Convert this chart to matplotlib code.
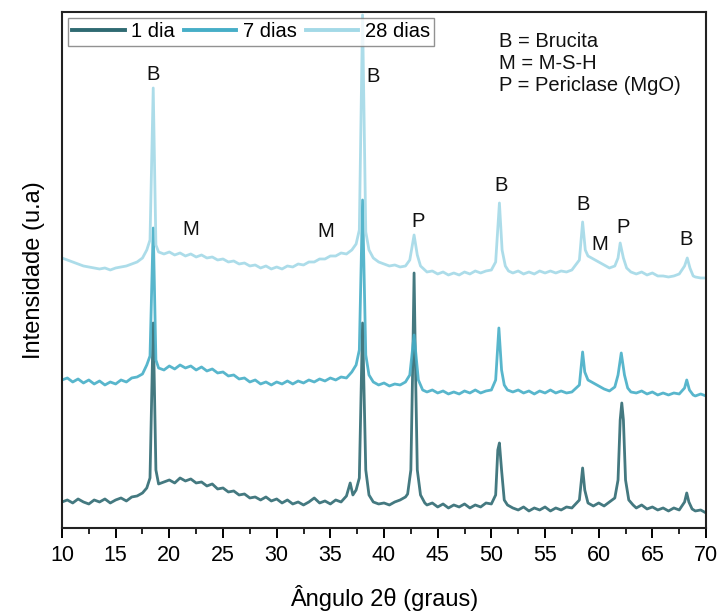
import matplotlib.pyplot as plt
from matplotlib.ticker import MultipleLocator

plt.rcParams['font.family'] = ['Liberation Sans', 'DejaVu Sans']

x_1d = [10, 10.5, 11, 11.5, 12, 12.5, 13, 13.5, 14, 14.5, 15, 15.5, 16, 16.5, 17, 17.5, 17.9, 18.2,
        18.5, 18.75, 19.0, 19.5, 20, 20.5, 21, 21.5, 22, 22.5, 23, 23.5, 24, 24.5, 25, 25.5, 26, 26.5,
        27, 27.5, 28, 28.5, 29, 29.5, 30, 30.5, 31, 31.5, 32, 32.5, 33, 33.5, 34, 34.5, 35, 35.5, 36,
        36.5, 36.85, 37.1, 37.4, 37.7, 38.0, 38.3, 38.6, 39, 39.5, 40, 40.5, 41, 41.5, 42, 42.2, 42.5,
        42.65, 42.8, 42.95, 43.1, 43.4, 43.8, 44, 44.5, 45, 45.5, 46, 46.5, 47, 47.5, 48, 48.5, 49,
        49.5, 50, 50.4, 50.6, 50.75, 50.95, 51.2, 51.5, 52, 52.5, 53, 53.5, 54, 54.5, 55, 55.5, 56,
        56.5, 57, 57.5, 58.2, 58.5, 58.7, 59, 59.5, 60, 60.5, 61, 61.5, 61.8, 62.0, 62.15, 62.3, 62.5,
        62.8, 63.2, 63.5, 64, 64.5, 65, 65.5, 66, 66.5, 67, 67.5, 68, 68.2, 68.4, 68.7, 69, 69.5, 70]
y_1d = [26, 28, 25, 29, 26, 24, 28, 26, 29, 25, 28, 30, 27, 31, 32, 35, 40, 50,
        205, 58, 44, 46, 48, 45, 50, 47, 49, 45, 46, 42, 44, 39, 40, 36, 37, 33,
        34, 30, 31, 28, 31, 27, 29, 25, 28, 24, 26, 23, 26, 30, 25, 27, 24, 28, 26,
        32, 45, 33, 38, 50, 205, 58, 33, 26, 24, 25, 23, 26, 28, 31, 34, 58,
        148, 255, 148, 58, 33, 25, 23, 25, 21, 24, 20, 23, 21, 24, 20, 23, 21,
        25, 24, 33, 78, 85, 58, 28, 23, 20, 18, 21, 17, 20, 18, 21, 17, 20,
        18, 21, 20, 28, 60, 38, 25, 22, 25, 22, 26, 30, 48, 108, 125, 108, 48,
        28, 23, 20, 23, 19, 21, 18, 20, 17, 20, 18, 26, 35, 26, 19, 17, 18, 15]

x_7d = [10, 10.5, 11, 11.5, 12, 12.5, 13, 13.5, 14, 14.5, 15, 15.5, 16, 16.5, 17, 17.5, 17.9, 18.2,
        18.5, 18.75, 19.0, 19.5, 20, 20.5, 21, 21.5, 22, 22.5, 23, 23.5, 24, 24.5, 25, 25.5, 26, 26.5,
        27, 27.5, 28, 28.5, 29, 29.5, 30, 30.5, 31, 31.5, 32, 32.5, 33, 33.5, 34, 34.5, 35, 35.5, 36,
        36.5, 37, 37.4, 37.7, 38.0, 38.3, 38.6, 39, 39.5, 40, 40.5, 41, 41.5, 42, 42.4, 42.8, 43.2,
        43.6, 44, 44.5, 45, 45.5, 46, 46.5, 47, 47.5, 48, 48.5, 49, 49.5, 50, 50.4, 50.7, 50.95,
        51.2, 51.5, 52, 52.5, 53, 53.5, 54, 54.5, 55, 55.5, 56, 56.5, 57, 57.5, 58.2, 58.5, 58.7,
        59, 59.5, 60, 60.5, 61, 61.5, 61.8, 62.1, 62.4, 62.7, 63, 63.5, 64, 64.5, 65, 65.5, 66,
        66.5, 67, 67.5, 68, 68.2, 68.45, 68.8, 69, 69.5, 70]
y_7d = [148, 150, 146, 149, 145, 148, 144, 147, 143, 146, 144, 148, 146, 150, 151, 154, 163, 172,
        300, 168, 160, 158, 162, 159, 163, 160, 162, 158, 161, 157, 159, 155, 156, 152, 153, 149,
        150, 146, 148, 144, 146, 143, 146, 144, 147, 144, 147, 145, 148, 146, 149, 147, 150, 148, 151,
        150, 156, 163, 178, 328, 173, 153, 146, 143, 145, 142, 144, 143, 146, 153, 193, 148,
        138, 136, 138, 135, 137, 134, 136, 134, 137, 135, 138, 135, 137, 138, 148, 200, 158,
        143, 138, 136, 138, 135, 137, 134, 137, 135, 138, 135, 137, 135, 136, 143, 176, 156,
        148, 145, 142, 139, 137, 141, 153, 175, 153, 140, 136, 135, 137, 134, 136, 133, 135,
        133, 135, 134, 140, 148, 138, 133, 132, 134, 132]

x_28d = [10, 10.5, 11, 11.5, 12, 12.5, 13, 13.5, 14, 14.5, 15, 15.5, 16, 16.5, 17, 17.5, 17.9, 18.2,
         18.5, 18.75, 19.0, 19.5, 20, 20.5, 21, 21.5, 22, 22.5, 23, 23.5, 24, 24.5, 25, 25.5, 26, 26.5,
         27, 27.5, 28, 28.5, 29, 29.5, 30, 30.5, 31, 31.5, 32, 32.5, 33, 33.5, 34, 34.5, 35, 35.5, 36,
         36.5, 37, 37.4, 37.7, 38.0, 38.3, 38.6, 39, 39.5, 40, 40.5, 41, 41.5, 42, 42.4, 42.8, 43.1,
         43.4, 43.8, 44, 44.5, 45, 45.5, 46, 46.5, 47, 47.5, 48, 48.5, 49, 49.5, 50, 50.4, 50.75,
         51.0, 51.3, 51.6, 52, 52.5, 53, 53.5, 54, 54.5, 55, 55.5, 56, 56.5, 57, 57.5, 58.2, 58.5,
         58.75, 59, 59.5, 60, 60.5, 61, 61.5, 61.8, 62.0, 62.3, 62.6, 63, 63.5, 64, 64.5, 65, 65.5,
         66, 66.5, 67, 67.5, 68, 68.25, 68.5, 68.8, 69, 69.5, 70]
y_28d = [270, 268, 266, 264, 262, 261, 260, 259, 260, 258, 260, 261, 262, 264, 266, 270, 278, 288,
         440, 283, 276, 274, 276, 273, 275, 272, 274, 271, 273, 270, 271, 268, 269, 266, 267, 264,
         265, 262, 263, 260, 262, 259, 261, 259, 262, 261, 264, 263, 266, 266, 269, 269, 272, 272, 275,
         274, 278, 284, 298, 513, 296, 278, 270, 266, 264, 262, 263, 261, 262, 268, 293, 273,
         262, 258, 256, 257, 254, 256, 253, 255, 253, 256, 254, 257, 255, 257, 258, 266, 325,
         278, 262, 257, 255, 257, 254, 256, 254, 257, 255, 257, 255, 257, 256, 258, 268, 306,
         278, 272, 269, 266, 263, 260, 262, 270, 285, 270, 260, 256, 254, 256, 253, 255, 252,
         252, 251, 252, 254, 262, 270, 260, 252, 251, 250, 250]

series = ['1 dia', '7 dias', '28 dias']
cores = ['#2f6a72', '#46aec7', '#a3d9e7']

# rótulos das fases: (texto, 2θ, intensidade)
rotulos = [('B', 18.5, 453), ('M', 22.0, 298), ('M', 34.6, 296), ('B', 39.0, 451),
           ('P', 43.2, 306), ('B', 50.9, 342), ('B', 58.55, 323), ('M', 60.1, 283),
           ('P', 62.3, 300), ('B', 68.15, 288)]
legenda_fases = ['B = Brucita', 'M = M-S-H', 'P = Periclase (MgO)']

fig = plt.figure(figsize=(7.19, 6.15), dpi=100)
ax = fig.add_axes([0.0862, 0.1415, 0.8958, 0.839])

for xs, ys, nome, cor in zip([x_1d, x_7d, x_28d], [y_1d, y_7d, y_28d], series, cores):
    ax.plot(xs, ys, color=cor, linewidth=2.0, alpha=0.9, label=nome)

for txt, xx, yy in rotulos:
    ax.text(xx, yy, txt, fontsize=14.5, ha='center', va='center', color='#111111')

ax.text(0.678, 0.962, '\n'.join(legenda_fases), transform=ax.transAxes, fontsize=14.5,
        ha='left', va='top', linespacing=1.2, color='#111111')

leg = ax.legend(loc='upper left', ncol=3, fontsize=14.5, frameon=True, fancybox=False,
                handlelength=2.6, handletextpad=0.32, columnspacing=0.45, borderpad=0.22,
                borderaxespad=0.3)
leg.get_frame().set_edgecolor('#777777')
leg.get_frame().set_linewidth(1.0)
for line in leg.get_lines():
    line.set_linewidth(2.8)
    line.set_alpha(1.0)

ax.set_xlim(10, 70)
ax.set_ylim(0, 516)
ax.set_yticks([])
ax.xaxis.set_major_locator(MultipleLocator(5))
ax.xaxis.set_minor_locator(MultipleLocator(2.5))
ax.tick_params(axis='x', which='major', direction='out', length=7, width=1.4, labelsize=15.5, pad=5)
ax.tick_params(axis='x', which='minor', direction='out', length=4, width=1.2)
for s in ax.spines.values():
    s.set_linewidth(1.5)
    s.set_color('#222222')

ax.set_xlabel('Ângulo 2θ (graus)', fontsize=17, labelpad=14)
ax.set_ylabel('Intensidade (u.a)', fontsize=17, labelpad=12)

fig.savefig('out.png', dpi=100)
